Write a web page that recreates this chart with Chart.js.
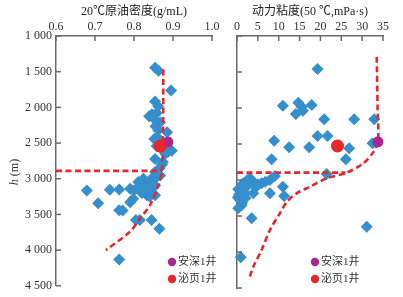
<!DOCTYPE html>
<html><head><meta charset="utf-8">
<script src="https://cdn.jsdelivr.net/npm/chart.js@4"></script>
<style>
html,body{margin:0;padding:0;background:#fff;width:403px;height:297px;overflow:hidden}
#w{position:relative;width:403px;height:297px}
canvas{position:absolute;top:0}
</style></head><body>
<div id="w"><canvas id="c1" width="222" height="297" style="left:0"></canvas><canvas id="c2" width="181" height="297" style="left:222px"></canvas></div>
<script>
// ---- tick labels / ranges ----
const depthTicks = [1000,1500,2000,2500,3000,3500,4000,4500];
const densityTicks = [0.6,0.7,0.8,0.9,1.0];
const viscosityTicks = [0,5,10,15,20,25,30,35];
const densityTitle = '20℃原油密度(g/mL)';
const viscosityTitle = '动力粘度(50 ℃,mPa·s)';
const depthTitleItalic = 'h';
const depthTitleRest = ' (m)';
const wellA = '安深1井';
const wellB = '泌页1井';

// ---- left panel: density samples ----
const densityX = [0.854,0.863,0.895,0.854,0.862,0.846,0.858,0.839,0.855,0.867,0.855,0.862,0.885,0.852,0.860,0.858,0.870,0.880,0.897,0.875,0.887,0.880,0.854,0.874,0.872,0.866,
  0.858,0.854,0.862,0.867,0.679,0.708,0.738,0.762,0.762,0.771,0.790,0.798,0.790,0.800,0.811,0.815,0.824,0.830,0.837,0.845,0.854,0.833,0.840,0.854,0.815,0.805,0.845,0.865,0.762,0.824,0.845,0.840,0.848,0.820];
const densityH = [1444,1486,1764,1917,1986,2097,2080,2125,2180,2208,2264,2320,2347,2444,2420,2542,2480,2560,2607,2600,2625,2650,2722,2764,2800,2850,
  2976,2907,2930,2953,3165,3345,3155,3150,3440,3445,3330,3280,3140,3160,3046,3095,3000,3060,3046,3000,3093,3231,3250,3231,3579,3579,3579,3700,4130,3130,3140,3190,3100,3200];
const densityAX = [0.887], densityAH = [2486];
const densityBX = [0.867], densityBH = [2542];
const densityTrendX = [0.875,0.875,0.874,0.872,0.862,0.841,0.815,0.79,0.728];
const densityTrendH = [1470,2000,2500,2890,3100,3370,3560,3740,4000];
const densityCutX = [0.6,0.872];
const densityCutH = [2890,2890];

// ---- right panel: viscosity samples ----
const viscX = [19.3,11.0,14.7,15.5,17.9,14.1,15.8,20.9,28.1,32.9,8.9,12.5,17.3,19.3,21.7,26.9,32.5,8.3,26.1,21.5,
  3.1,1.5,0.3,2.3,3.9,5.9,6.8,7.9,9.1,1.9,3.9,0.7,0.3,1.2,7.9,11.0,11.3,3.5,31.1,0.9,2.5,4.5,0.5,2.0,5.0,0.2,1.1];
const viscH = [1458,1968,1926,1981,1958,2083,2037,2157,2157,2157,2454,2546,2546,2389,2389,2560,2491,2713,2713,2917,
  2977,3046,3130,3090,3023,3046,3023,3000,2944,3185,3185,3278,3393,3320,3185,3093,3222,3532,3648,4074,3000,3100,3200,3250,3060,3240,3350];
const viscAX = [33.8], viscAH = [2470];
const viscBX = [24.1], viscBH = [2528];
const viscTrendX = [33.5,33.7,33.8,32.6,30.3,26.3,21.5,17.5,14.3,12.0,10.3,7.9,5.9,3.9,3.1];
const viscTrendH = [1290,2000,2470,2620,2768,2898,2977,3093,3185,3300,3460,3694,3972,4204,4340];
const viscCutX = [0,26];
const viscCutH = [2898,2898];

const BLUE='#348fcc', RED='#e8262b', MAG='#a8288f', AXIS='#6a6a6a', TXT='#333';
const FONT="'Liberation Serif','Noto Sans CJK SC'";
const pts=(xs,ys)=>xs.map((x,i)=>({x:x,y:ys[i]}));
const fmtDepth=v=>{const s=String(v);return s.length>3?s.slice(0,-3)+' '+s.slice(-3):s;};

const inwardTicks={id:'inwardTicks',afterDraw(chart){
  const ctx=chart.ctx;ctx.save();ctx.strokeStyle=AXIS;ctx.lineWidth=1.5;
  ['x','y'].forEach(id=>{const s=chart.scales[id];s.ticks.forEach(t=>{const p=s.getPixelForValue(t.value);ctx.beginPath();
    if(s.isHorizontal()){ctx.moveTo(p,s.bottom);ctx.lineTo(p,s.bottom+5);}else{ctx.moveTo(s.right,p);ctx.lineTo(s.right+5,p);}ctx.stroke();});});
  ctx.restore();}};
const pointLegend={id:'pointLegend',afterDraw(chart,args,opts){
  if(!opts||!opts.items)return;const ctx=chart.ctx;ctx.save();
  opts.items.forEach((it,i)=>{const y=opts.y+i*opts.gap;ctx.fillStyle=it.color;ctx.beginPath();ctx.arc(opts.x,y,4.2,0,Math.PI*2);ctx.fill();
    ctx.fillStyle=TXT;ctx.font="11px "+FONT;ctx.textBaseline='middle';ctx.textAlign='left';ctx.fillText(it.label,opts.x+6,y);});
  ctx.restore();}};
const yTitle={id:'yTitle',afterDraw(chart,args,opts){
  if(!opts||!opts.show)return;const ctx=chart.ctx;ctx.save();ctx.translate(opts.x,opts.y);ctx.rotate(-Math.PI/2);
  ctx.fillStyle=TXT;ctx.textBaseline='middle';ctx.font="italic 12px "+FONT;const w1=ctx.measureText(depthTitleItalic).width;
  ctx.font="12px "+FONT;const w2=ctx.measureText(depthTitleRest).width;const x0=-(w1+w2)/2;
  ctx.font="italic 12px "+FONT;ctx.textAlign='left';ctx.fillText(depthTitleItalic,x0,0);
  ctx.font="12px "+FONT;ctx.fillText(depthTitleRest,x0+w1,0);ctx.restore();}};

function makeChart(id,cfg){
  return new Chart(document.getElementById(id),{
    type:'scatter',
    data:{datasets:[
      {label:wellA,data:pts(cfg.ax,cfg.ah),backgroundColor:MAG,borderWidth:0,pointRadius:5.5,pointHoverRadius:5.5,order:1,clip:false},
      {label:wellB,data:pts(cfg.bx,cfg.bh),backgroundColor:RED,borderWidth:0,pointRadius:6.5,pointHoverRadius:6.5,order:0,clip:false},
      {label:'trend',data:pts(cfg.tx,cfg.th),showLine:true,borderColor:RED,borderWidth:2.6,borderDash:[6,3.5],pointRadius:0,tension:0.3,fill:false,order:2,clip:false},
      {label:'cut',data:pts(cfg.cx,cfg.ch),showLine:true,borderColor:RED,borderWidth:2.6,borderDash:[6,3.5],pointRadius:0,fill:false,order:2,clip:false},
      {label:'samples',data:pts(cfg.sx,cfg.sh),pointStyle:'rectRot',backgroundColor:BLUE,borderWidth:0,pointRadius:6,pointHoverRadius:6,order:3,clip:false}
    ]},
    options:{
      responsive:false,animation:false,
      layout:{padding:cfg.pad},
      plugins:{legend:{display:false},tooltip:{enabled:false},
        pointLegend:{x:cfg.legX,y:262,gap:17,items:[{label:wellA,color:MAG},{label:wellB,color:RED}]},
        yTitle:{show:cfg.yLabels,x:15,y:172}},
      scales:{
        x:{type:'linear',position:'top',min:cfg.xmin,max:cfg.xmax,
          afterBuildTicks:s=>{s.ticks=cfg.xticks.map(v=>({value:v}));},
          afterFit:s=>{s.height=36;},
          grid:{drawOnChartArea:false,drawTicks:false},
          border:{display:true,color:AXIS,width:1.5},
          ticks:{padding:2,color:TXT,font:{family:FONT,size:12},callback:cfg.xfmt,maxRotation:0,autoSkip:false},
          title:{display:true,text:cfg.title,color:'#222',font:{family:FONT,size:12},padding:{top:5,bottom:0}}},
        y:{type:'linear',reverse:true,min:1000,max:4500,
          afterBuildTicks:s=>{s.ticks=depthTicks.map(v=>({value:v}));},
          afterFit:s=>{s.width=cfg.yWidth;},
          grid:{drawOnChartArea:false,drawTicks:false},
          border:{display:true,color:AXIS,width:1.5},
          ticks:{display:cfg.yLabels,padding:4,color:TXT,font:{family:FONT,size:12},callback:v=>fmtDepth(v),autoSkip:false}}
      }
    },
    plugins:[inwardTicks,pointLegend,yTitle]
  });
}
makeChart('c1',{sx:densityX,sh:densityH,ax:densityAX,ah:densityAH,bx:densityBX,bh:densityBH,tx:densityTrendX,th:densityTrendH,cx:densityCutX,ch:densityCutH,
  xmin:0.6,xmax:1.0,xticks:densityTicks,xfmt:v=>Number(v).toFixed(1),title:densityTitle,yWidth:56,yLabels:true,pad:{left:0,right:10,top:0,bottom:9},legX:172});
makeChart('c2',{sx:viscX,sh:viscH,ax:viscAX,ah:viscAH,bx:viscBX,bh:viscBH,tx:viscTrendX,th:viscTrendH,cx:viscCutX,ch:viscCutH,
  xmin:0,xmax:35,xticks:viscosityTicks,xfmt:v=>String(v),title:viscosityTitle,yWidth:15,yLabels:false,pad:{left:0,right:20,top:0,bottom:9},legX:93});
</script>
</body></html>
